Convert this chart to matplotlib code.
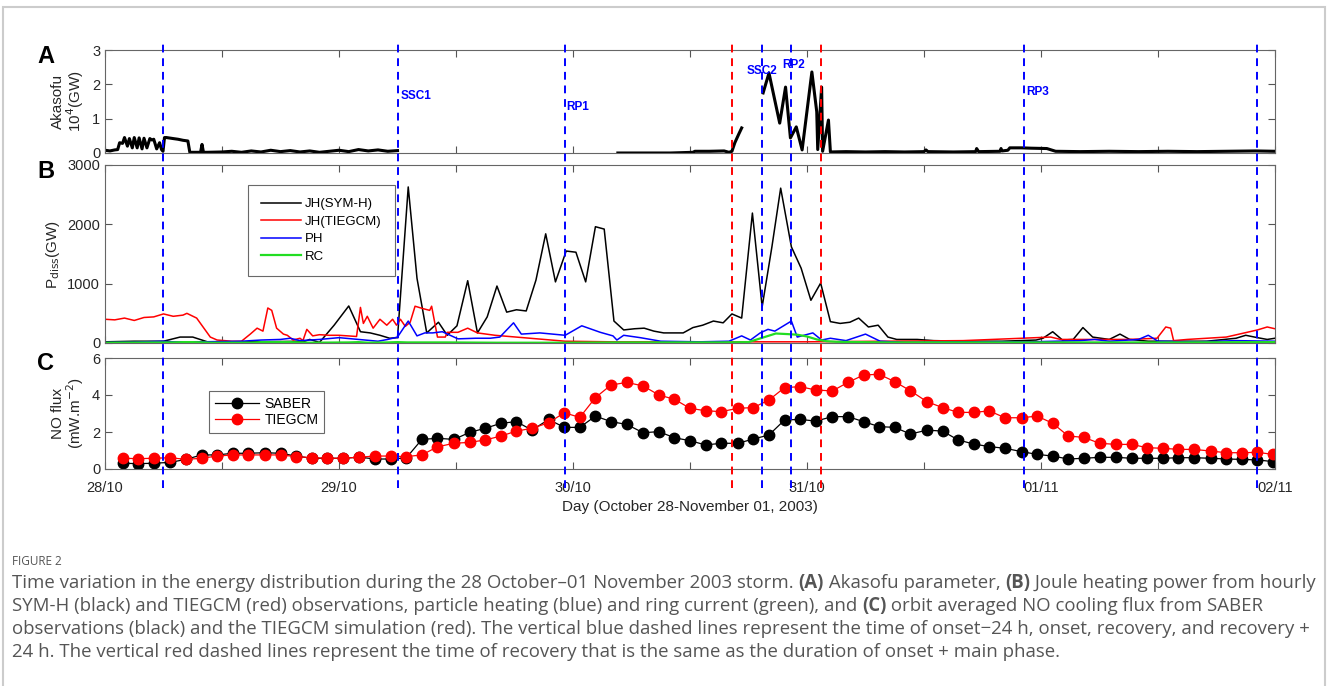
import numpy as np
import matplotlib
matplotlib.use("Agg")
import matplotlib.pyplot as plt
from matplotlib.transforms import blended_transform_factory
from matplotlib.lines import Line2D
from matplotlib.patches import Rectangle

nan = np.nan

# ---- event times (hours from 28/10 00 UT)
blue_lines = [5.9, 30.0, 47.2, 67.4, 70.4, 94.3, 118.2]
red_lines = [64.3, 73.4]
event_names = ["SSC1", "RP1", "SSC2", "RP2", "RP3"]
event_t = [30.3, 47.3, 65.8, 69.5, 94.5]
event_y = [1.66, 1.34, 2.39, 2.57, 1.78]

# ---- panel A: Akasofu epsilon (10^4 GW)
ak_t = [0, 0.5, 1.0, 1.3, 1.5, 1.8, 2.0, 2.3, 2.5, 2.8, 3.0, 3.3, 3.5, 3.8,
        4.0, 4.3, 4.6, 4.8, 5.0, 5.3, 5.6, 5.8, 5.95, 6.1, 6.3, 7.0, 7.5, 8.0,
        8.5, 8.7, 9.5, 9.8, 9.95, 10.1, 10.5, 12, 13, 14, 15, 16, 17, 18, 19, 20, 21,
        22, 23, 24, 25, 26, 27, 28, 29, 30,
        30.1,
        52.6, 55, 58, 60.3, 60.5, 62, 63.5, 64.0, 64.3, 64.6, 65.0, 65.3,
        65.4,
        67.5, 68.1, 69.2, 69.8, 70.3, 70.9, 71.5, 72.5, 73.0, 73.1, 73.5, 73.6, 74.2,
        74.4, 76, 78, 80, 82, 84.0, 84.2, 84.4, 87, 89.3, 89.4, 89.6, 91.8, 91.9, 92.0,
        92.6, 92.8, 94, 95, 96.6, 97.5, 100, 103, 106, 109, 112, 115, 118, 120]
ak_v = [0.08, 0.06, 0.09, 0.1, 0.3, 0.28, 0.45, 0.2, 0.42, 0.15, 0.45, 0.15, 0.44, 0.12,
        0.43, 0.15, 0.42, 0.38, 0.4, 0.12, 0.3, 0.1, 0.05, 0.45, 0.45, 0.42, 0.4, 0.37,
        0.35, 0.02, 0.02, 0.02, 0.25, 0.02, 0.02, 0.03, 0.05, 0.02, 0.06, 0.03, 0.08, 0.04, 0.07, 0.03, 0.06,
        0.02, 0.05, 0.08, 0.04, 0.1, 0.06, 0.09, 0.05, 0.07,
        nan,
        0.0, 0.0, 0.0, 0.02, 0.05, 0.05, 0.06, 0.02, 0.05, 0.3, 0.55, 0.73,
        nan,
        1.75, 2.33, 0.87, 1.92, 0.44, 0.76, 0.09, 2.36, 1.2, 0.1, 1.92, 0.05, 0.96,
        0.03, 0.04, 0.03, 0.04, 0.03, 0.04, 0.09, 0.04, 0.03, 0.04, 0.13, 0.04, 0.05, 0.13, 0.06,
        0.08, 0.15, 0.15, 0.14, 0.13, 0.05, 0.04, 0.05, 0.04, 0.05, 0.04, 0.05, 0.06, 0.05]

# ---- panel B: dissipated power (GW)
jh_sym_t = [0, 3, 6, 7.7, 9.0, 10.5, 12, 15, 18, 20.5, 21.0, 22.0, 23.5, 25.0, 26.2, 27.2,
            28.2, 29.2, 30.0, 31.1, 32, 33, 34.2, 35.1, 36.1, 37.2, 38.2, 39.2, 40.2, 41.2,
            42.2, 43.2, 44.2, 45.2, 46.2, 47.3, 48.3, 49.3, 50.3, 51.2, 52.2, 53.2, 54.3,
            55.3, 56.3, 57.3, 59.3, 60.3, 61.3, 62.4, 63.4, 64.3, 65.3, 66.4, 67.4, 68.4,
            69.3, 70.4, 71.4, 72.4, 73.4, 74.4, 75.4, 76.4, 77.3, 78.3, 79.3, 80.3, 81.2,
            83.3, 85, 88, 92, 95.5, 96.2, 97.2, 98.2, 99.3, 100.3, 101.3, 103, 104.1, 105.1,
            107, 110, 113, 116, 117, 118.2, 119.2, 120]
jh_sym_v = [20, 30, 30, 100, 100, 20, 15, 20, 25, 30, 60, 10, 300, 624, 190, 170,
            130, 80, 90, 2630, 1090, 170, 350, 130, 290, 1050, 170, 440, 960, 520,
            560, 540, 1060, 1840, 1030, 1550, 1530, 1030, 1960, 1920, 370, 220, 240,
            250, 200, 170, 170, 260, 300, 370, 340, 490, 420, 2190, 610, 1620,
            2610, 1620, 1260, 720, 1010, 360, 330, 350, 420, 270, 300, 100, 60,
            60, 40, 30, 30, 50, 80, 190, 50, 60, 260, 100, 60, 150, 60,
            30, 30, 30, 80, 130, 90, 60, 80]

jh_tie_t = [0, 1, 2, 3, 4, 5, 6, 7, 8, 8.4, 9.4, 10.8, 11.5, 13, 14, 14.9, 15.6, 16.2, 16.7,
            17.1, 17.6, 18.3, 18.7, 19.3, 20, 20.3, 20.7, 21.3, 22, 23, 24, 25.8, 26.2, 26.5,
            26.9, 27.5, 28.2, 28.9, 29.5, 29.9, 30.3, 30.8, 31.3, 31.8, 32.6, 33.3, 33.5,
            34.1, 34.9, 35.1, 36.2, 37.2, 38.2, 40, 47.2, 52, 60, 72, 80, 88, 97, 98, 105,
            107.9, 108.8, 109.3, 109.6, 111, 113, 115, 118.2, 119.2, 120]
jh_tie_v = [400, 390, 420, 380, 430, 440, 490, 450, 470, 500, 420, 100, 50, 30, 30, 150, 250, 200, 590,
            550, 250, 150, 130, 50, 80, 40, 230, 120, 140, 130, 130, 110, 600, 330,
            450, 250, 400, 300, 400, 300, 400, 280, 350, 620, 580, 550, 620,
            100, 100, 180, 180, 250, 170, 130, 30, 20, 20, 20, 30, 40, 100, 60, 60,
            80, 270, 250, 40, 60, 80, 100, 220, 270, 240]

ph_t = [0, 3, 6, 7, 10, 14, 16, 18, 19, 20, 22, 24, 26, 28, 29, 30, 31.1, 32, 32.8, 33.6,
        34.6, 35.4, 36.2, 38, 39.5, 40.5, 41.9, 42.7, 44.6, 47.2, 48.9, 50.8, 52.1, 52.5,
        53.2, 54.9, 57, 61, 64, 65.3, 66.2, 67.2, 68, 68.7, 70.4, 71, 72.6, 73.5, 74.4, 76,
        78, 79.5, 82, 90, 95, 100, 101.5, 103, 106, 107, 108, 112, 116, 120]
ph_v = [10, 15, 30, 20, 20, 30, 50, 60, 80, 40, 60, 90, 60, 30, 60, 100, 370, 120, 170, 170,
        190, 130, 70, 80, 80, 100, 340, 150, 170, 130, 290, 180, 120, 50,
        130, 90, 30, 20, 30, 120, 50, 170, 230, 200, 370, 100, 170, 50, 80, 40,
        150, 30, 10, 20, 20, 40, 60, 30, 60, 130, 30, 20, 40, 30]

rc_t = [0, 7, 8, 9, 10, 11, 15, 16, 17, 19, 20, 21, 25, 26, 27, 29, 30, 31, 35, 40, 47, 53,
        58, 63, 66, 68.8, 70, 71, 72, 73, 74, 75, 80, 90, 100, 110, 120]
rc_v = [5, 10, 15, 15, 10, 5, 5, 15, 15, 15, 10, 5, 10, 15, 5, 10, 15, 10, 10, 5, 5, 10,
        10, 10, 15, 160, 150, 140, 110, 60, 30, 20, 10, 10, 10, 10, 15]

# ---- panel C: orbit averaged NO cooling flux (mW m^-2)
orbit_t = [1.8, 3.4, 5.0, 6.7, 8.3, 9.9, 11.5, 13.1, 14.7, 16.4, 18.0, 19.6, 21.2, 22.8,
           24.4, 26.1, 27.7, 29.3, 30.9, 32.5, 34.1, 35.8, 37.4, 39.0, 40.6, 42.2, 43.8,
           45.5, 47.1, 48.7, 50.3, 51.9, 53.5, 55.2, 56.8, 58.4, 60.0, 61.6, 63.2, 64.9,
           66.5, 68.1, 69.7, 71.3, 72.9, 74.6, 76.2, 77.8, 79.4, 81.0, 82.6, 84.3, 85.9,
           87.5, 89.1, 90.7, 92.3, 94.0, 95.6, 97.2, 98.8, 100.4, 102.0, 103.7, 105.3,
           106.9, 108.5, 110.1, 111.7, 113.4, 115.0, 116.6, 118.2, 119.8]
saber = [0.31, 0.29, 0.31, 0.36, 0.52, 0.76, 0.76, 0.85, 0.85, 0.88, 0.85, 0.70, 0.58, 0.58,
         0.58, 0.64, 0.54, 0.54, 0.60, 1.60, 1.66, 1.60, 1.98, 2.20, 2.47, 2.56, 2.10,
         2.68, 2.25, 2.25, 2.86, 2.56, 2.41, 1.96, 2.02, 1.69, 1.53, 1.30, 1.39, 1.39,
         1.62, 1.84, 2.65, 2.68, 2.59, 2.83, 2.83, 2.56, 2.29, 2.25, 1.89, 2.10, 2.05,
         1.57, 1.35, 1.21, 1.12, 0.94, 0.79, 0.70, 0.54, 0.58, 0.63, 0.63, 0.58,
         0.58, 0.58, 0.61, 0.61, 0.58, 0.54, 0.52, 0.49, 0.40]
tiegcm = [0.58, 0.56, 0.58, 0.61, 0.52, 0.58, 0.70, 0.76, 0.76, 0.76, 0.76, 0.67, 0.61, 0.58,
          0.58, 0.64, 0.70, 0.70, 0.67, 0.76, 1.20, 1.39, 1.44, 1.57, 1.78, 2.05, 2.20,
          2.50, 3.04, 2.79, 3.86, 4.54, 4.68, 4.49, 4.00, 3.77, 3.28, 3.15, 3.10, 3.28,
          3.32, 3.73, 4.40, 4.45, 4.27, 4.22, 4.68, 5.08, 5.12, 4.72, 4.23, 3.64, 3.32,
          3.06, 3.06, 3.14, 2.77, 2.77, 2.86, 2.47, 1.78, 1.71, 1.39, 1.33, 1.33,
          1.15, 1.12, 1.06, 1.06, 0.97, 0.88, 0.88, 0.90, 0.79]

day_ticks = [0, 12, 24, 36, 48, 60, 72, 84, 96, 108, 120]
day_labels = ["28/10", "", "29/10", "", "30/10", "", "31/10", "", "01/11", "", "02/11"]

plt.rcParams['font.family'] = ['Liberation Sans', 'DejaVu Sans']
fig = plt.figure(figsize=(13.28, 6.86), dpi=100)

W, H = 1328.0, 686.0
L, R = 105 / W, 1170 / W
axA = fig.add_axes([L, 1 - 153 / H, R, 103 / H])
axB = fig.add_axes([L, 1 - 343 / H, R, 178 / H])
axC = fig.add_axes([L, 1 - 469 / H, R, 111 / H])

for ax in (axA, axB, axC):
    ax.set_xlim(0, 120)
    ax.set_xticks(day_ticks)
    ax.tick_params(direction='in', top=True, right=True, length=5, width=0.8,
                   labelsize=10.5, colors='#555555', labelcolor='#262626')
    for s in ax.spines.values():
        s.set_color('#666666')
        s.set_linewidth(0.8)
    ax.set_xticklabels([])

# A
axA.plot(ak_t, ak_v, color='black', lw=2.2)
axA.set_ylim(0, 3)
axA.set_yticks([0, 1, 2, 3])
axA.set_ylabel("Akasofu\n10$^4$(GW)", fontsize=11, color='#262626', labelpad=4, linespacing=1.0)
for name, t, y in zip(event_names, event_t, event_y):
    axA.text(t, y, name, color='blue', fontsize=8.5, fontweight='bold', ha='left', va='center')

# B
axB.plot(jh_sym_t, jh_sym_v, color='black', lw=1.1, label='JH(SYM-H)')
axB.plot(jh_tie_t, jh_tie_v, color='red', lw=1.1, label='JH(TIEGCM)')
axB.plot(ph_t, ph_v, color='blue', lw=1.1, label='PH')
axB.plot(rc_t, rc_v, color='#22dd22', lw=1.6, label='RC')
axB.set_ylim(0, 3000)
axB.set_yticks([0, 1000, 2000, 3000])
axB.set_ylabel("P$_{\\rm diss}$(GW)", fontsize=11, color='#262626', labelpad=4)
legB = axB.legend(loc='upper left', bbox_to_anchor=(143 / 1170, 1 - 20 / 178), fontsize=9.5,
                  fancybox=False, edgecolor='#444444', borderpad=1.0, labelspacing=0.4,
                  handlelength=3.0, handletextpad=0.3, borderaxespad=0)
legB.get_frame().set_linewidth(0.8)

# C
axC.plot(orbit_t, saber, '-o', color='black', lw=0.9, ms=7.5, mfc='black', mec='black', label='SABER')
axC.plot(orbit_t, tiegcm, '-o', color='red', lw=0.9, ms=7.5, mfc='red', mec='red', label='TIEGCM')
axC.set_ylim(0, 6)
axC.set_yticks([0, 2, 4, 6])
axC.set_ylabel("NO flux\n(mW.m$^{-2}$)", fontsize=11, color='#262626', labelpad=4, linespacing=1.0)
axC.set_xticklabels(day_labels)
axC.tick_params(axis='x', pad=9)
axC.set_xlabel("Day (October 28-November 01, 2003)", fontsize=11, color='#262626', labelpad=3)
legC = axC.legend(loc='upper left', bbox_to_anchor=(104 / 1170, 1 - 33 / 111), fontsize=10,
                  fancybox=False, edgecolor='#444444', borderpad=0.4, labelspacing=0.2,
                  handlelength=3.2, handletextpad=0.4, borderaxespad=0)
legC.get_frame().set_linewidth(0.8)

# vertical dashed lines spanning all panels
tr = blended_transform_factory(axC.transData, fig.transFigure)
for t in blue_lines:
    fig.add_artist(Line2D([t, t], [1 - 488 / H, 1 - 43 / H], transform=tr, color='blue',
                          lw=1.4, ls=(0, (4, 3)), zorder=5))
for t in red_lines:
    fig.add_artist(Line2D([t, t], [1 - 488 / H, 1 - 43 / H], transform=tr, color='red',
                          lw=1.4, ls=(0, (4, 3)), zorder=5))

# panel letters
for lab, ytop in zip(["A", "B", "C"], [45, 160, 352]):
    fig.text(37 / W, 1 - ytop / H, lab, fontsize=17, fontweight='bold', va='top', ha='left')

# outer frame
fig.add_artist(Rectangle((3 / W, -0.02), 1322 / W, 1.02 - 7 / H, transform=fig.transFigure,
                         fill=False, edgecolor='#cccccc', lw=1.5))

# caption
cap_font = dict(family='Open Sans', fontsize=13.4, color='#555555', va='baseline')
fig.text(12 / W, 1 - 565 / H, "FIGURE 2", family='Open Sans', fontsize=8.5, color='#555555',
         va='baseline')

renderer = fig.canvas.get_renderer()


def rich_line(x, y, parts):
    for s, w in parts:
        t = fig.text(x, y, s, fontweight=w, **cap_font)
        x += t.get_window_extent(renderer=renderer).width / fig.bbox.width


caption = [
    [("Time variation in the energy distribution during the 28 October\u201301 November 2003 storm. ", 'normal'),
     ("(A)", 'bold'), (" Akasofu parameter, ", 'normal'), ("(B)", 'bold'),
     (" Joule heating power from hourly", 'normal')],
    [("SYM-H (black) and TIEGCM (red) observations, particle heating (blue) and ring current (green), and ", 'normal'),
     ("(C)", 'bold'), (" orbit averaged NO cooling flux from SABER", 'normal')],
    [("observations (black) and the TIEGCM simulation (red). The vertical blue dashed lines represent the time of onset\u221224 h, onset, recovery, and recovery +", 'normal')],
    [("24 h. The vertical red dashed lines represent the time of recovery that is the same as the duration of onset + main phase.", 'normal')],
]
for i, parts in enumerate(caption):
    rich_line(12 / W, 1 - (588 + 23 * i) / H, parts)

fig.savefig("out.png", dpi=100)
